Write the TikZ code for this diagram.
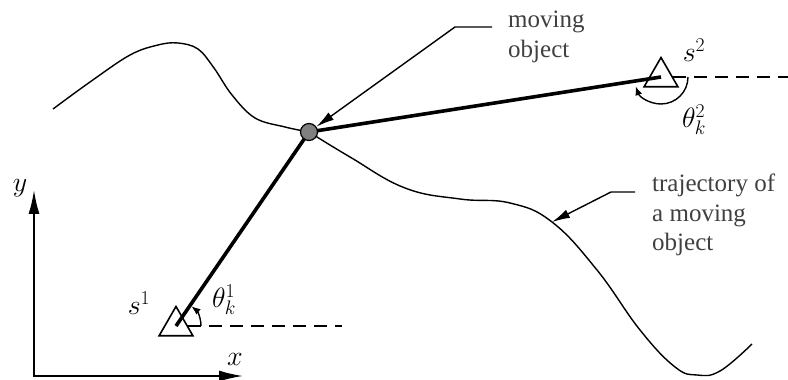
\RequirePackage{fix-cm}
\documentclass[tikz,border=0pt]{standalone}
\usepackage{fontspec}
\setmainfont{Liberation Serif}
\usetikzlibrary{arrows.meta, shapes.geometric}

\begin{document}
\begin{tikzpicture}[
  x=1pt, y=1pt,
  traj/.style={line width=1.4pt},
  sight/.style={line width=3.6pt},
  ref/.style={line width=1.4pt, dash pattern=on 13pt off 8pt},
  axis/.style={line width=1.8pt, {Latex[length=24pt,width=11pt]}-{Latex[length=24pt,width=11pt]}},
  callout/.style={line width=1.4pt, -{Latex[length=18pt,width=9pt]}},
  angle/.style={line width=1.4pt, -{Latex[length=9pt,width=7pt]}},
  sensor/.style={regular polygon, regular polygon sides=3, draw, line width=1.6pt, minimum size=39pt, inner sep=0pt},
  target/.style={circle, draw, fill=black!50, line width=1.2pt, minimum size=17pt, inner sep=0pt},
  note/.style={align=left, inner sep=0pt, text=black!75, font=\fontsize{25}{29.5}\selectfont},
  sym/.style={inner sep=0pt, font=\fontsize{28}{32}\selectfont}
]
\useasboundingbox (0,0) rectangle (788,380);

% frame
\coordinate (o) at (34,4);
\coordinate (xe) at (243,4);
\coordinate (ye) at (34,190);
\draw[axis] (ye) -- (o) -- (xe);
\node[sym] (ly) at (20,192) {$y$};
\node[sym] (lx) at (235,21) {$x$};

% sensors
\node[sensor] (s1) at (176,54) {};
\node[sensor] (s2) at (661,303) {};
\coordinate (r1) at (342,54);
\coordinate (r2) at (788,303);
\draw[ref] (s1) -- (r1);
\draw[ref] (s2) -- (r2);
\node[sym] (ls1) at (139,77) {$s^1$};
\node[sym] (ls2) at (694,330) {$s^2$};

% trajectory
\coordinate (c) at (309,248);
\coordinate (hit) at (552,158);
\draw[traj] plot[smooth, tension=0.6] coordinates {
  (53,271) (90,298) (130,325) (158,335) (178,337) (198,331) (214,312)
  (232,285) (255,262) (285,253) (c)};
\draw[traj] plot[smooth, tension=0.7] coordinates {
  (c) (350,223) (405,192) (460,181) (510,177) (hit) (597,110) (640,50)
  (675,13) (697,5) (720,9) (752,36)};

% lines of sight
\draw[sight] (s1.center) -- (c);
\draw[sight] (c) -- (s2.center);
\node[target] (obj) at (c) {};

% bearings
\draw[angle] ([shift={(0:25)}]s1.center) arc[start angle=0, end angle=52, radius=25];
\draw[angle] ([shift={(0:27)}]s2.center) arc[start angle=0, end angle=-160, radius=27];
\node[sym] (lt1) at (224,80) {$\theta_k^1$};
\node[sym] (lt2) at (694,260) {$\theta_k^2$};

% callouts
\node[note, anchor=west] (mlabel) at (508,343) {moving\\object};
\node[note, anchor=west] (tlabel) at (652,165) {trajectory of\\a moving\\object};
\coordinate (mk) at (455,353);
\coordinate (tk) at (611,188);
\draw[callout] ([xshift=-16pt]mlabel.west |- mk) -- (mk) -- (obj);
\draw[callout] ([xshift=-17pt]tlabel.west |- tk) -- (tk) -- (hit);
\end{tikzpicture}
\end{document}
